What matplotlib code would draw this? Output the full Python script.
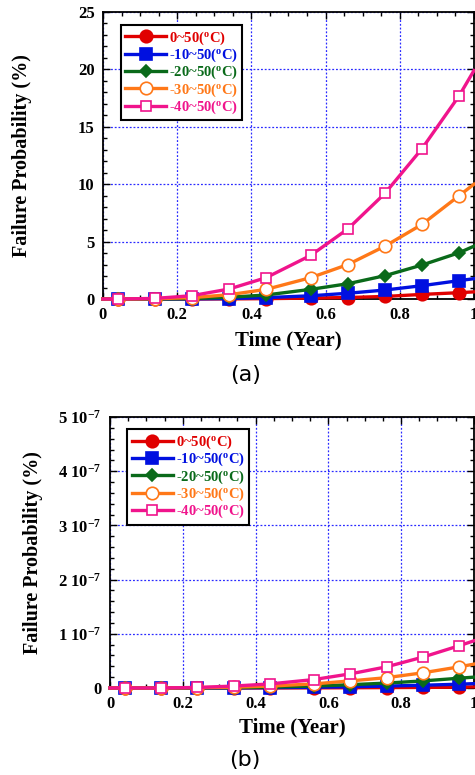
import numpy as np
import matplotlib
matplotlib.use("Agg")
import matplotlib.pyplot as plt
from matplotlib.ticker import MultipleLocator, FixedLocator, FixedFormatter

# time points (year); markers sit at the inner points, lines run 0..1
time = [0.0, 0.04, 0.14, 0.24, 0.34, 0.44, 0.56, 0.66, 0.76, 0.86, 0.96, 1.0]

labels = ["0~50($^\\mathbf{o}$C)", "-10~50($^\\mathbf{o}$C)", "-20~50($^\\mathbf{o}$C)",
          "-30~50($^\\mathbf{o}$C)", "-40~50($^\\mathbf{o}$C)"]
colors = ["#e00000", "#0010e0", "#0a6a1a", "#ff7818", "#f0148c"]

# (a) failure probability (%)
prob_a_0 = [0, 0, 0, 0, 0.01, 0.03, 0.08, 0.13, 0.22, 0.40, 0.55, 0.62]
prob_a_10 = [0, 0, 0, 0.01, 0.04, 0.12, 0.28, 0.50, 0.78, 1.16, 1.60, 1.77]
prob_a_20 = [0, 0, 0, 0.03, 0.15, 0.35, 0.84, 1.33, 2.03, 2.96, 4.03, 4.60]
prob_a_30 = [0, 0, 0.02, 0.12, 0.37, 0.84, 1.86, 3.00, 4.60, 6.50, 9.00, 10.0]
prob_a_40 = [0, 0, 0.05, 0.29, 0.87, 1.86, 3.80, 6.10, 9.20, 13.1, 17.7, 19.9]

# (b) failure probability (%), units of 1e-7
prob_b_0 = [0, 0, 0, 0, 0, 0, 0.002, 0.004, 0.007, 0.010, 0.015, 0.02]
prob_b_10 = [0, 0, 0, 0, 0.002, 0.006, 0.012, 0.022, 0.035, 0.05, 0.07, 0.08]
prob_b_20 = [0, 0, 0, 0.002, 0.006, 0.015, 0.035, 0.06, 0.09, 0.13, 0.18, 0.20]
prob_b_30 = [0, 0, 0, 0.005, 0.015, 0.035, 0.075, 0.13, 0.19, 0.28, 0.39, 0.44]
prob_b_40 = [0, 0, 0, 0.01, 0.035, 0.075, 0.155, 0.26, 0.39, 0.57, 0.78, 0.87]

markers = ["o", "s", "D", "o", "s"]
msizes = [9, 8, 6.5, 9, 7.5]
filled = [True, True, True, False, False]

SERIF = "Liberation Serif"
plt.rcParams["mathtext.fontset"] = "custom"
plt.rcParams["mathtext.rm"] = "Liberation Serif:bold"
plt.rcParams["mathtext.bf"] = "Liberation Serif:bold"
plt.rcParams["mathtext.it"] = "Liberation Serif:bold"


def draw_panel(ax, series, yticks, yticklabels, ymax, yminor, ylab_x, xlab_y):
    for i, vals in enumerate(series):
        ax.plot(time, vals, color=colors[i], lw=2.4, marker=markers[i],
                markersize=msizes[i], markevery=list(range(1, 11)),
                markerfacecolor=colors[i] if filled[i] else "white",
                markeredgecolor=colors[i], markeredgewidth=1.2,
                clip_on=False, zorder=3 + i, label=labels[i])
    ax.set_xlim(0, 1)
    ax.set_ylim(0, ymax)
    ax.xaxis.set_major_locator(FixedLocator([0, 0.2, 0.4, 0.6, 0.8, 1.0]))
    ax.xaxis.set_major_formatter(FixedFormatter(["0", "0.2", "0.4", "0.6", "0.8", "1"]))
    ax.xaxis.set_minor_locator(MultipleLocator(0.05))
    ax.yaxis.set_major_locator(FixedLocator(yticks))
    ax.yaxis.set_major_formatter(FixedFormatter(yticklabels))
    ax.yaxis.set_minor_locator(MultipleLocator(yminor))
    ax.tick_params(which="both", direction="in", top=True, right=True)
    ax.tick_params(which="major", length=5, width=1, pad=6)
    ax.tick_params(which="minor", length=3, width=1)
    for lab in ax.get_xticklabels() + ax.get_yticklabels():
        lab.set_fontfamily(SERIF)
        lab.set_fontweight("bold")
        lab.set_fontsize(12)
    for sp in ax.spines.values():
        sp.set_linewidth(1.3)
    ax.grid(True, which="major", color="#2a2aff", linestyle=(0, (1.5, 1.5)), lw=0.9)
    ax.set_xlabel("Time (Year)", fontfamily=SERIF, fontweight="bold", fontsize=15)
    ax.set_ylabel("Failure Probability (%)", fontfamily=SERIF, fontweight="bold", fontsize=14.5)
    ax.yaxis.set_label_coords(ylab_x, 0.5)
    ax.xaxis.set_label_coords(0.5, xlab_y)
    leg = ax.legend(loc="upper left", bbox_to_anchor=(0.048, 0.955), fancybox=False,
                    framealpha=1, edgecolor="black", handlelength=2.8,
                    handletextpad=0.2, borderpad=0.3, labelspacing=0.0,
                    borderaxespad=0.0,
                    prop={"family": SERIF, "weight": "bold", "size": 10.5})
    leg.get_frame().set_linewidth(1.5)
    for txt, c in zip(leg.get_texts(), colors):
        txt.set_color(c)


fig = plt.figure(figsize=(4.75, 7.75), dpi=100)

ax1 = fig.add_axes([0.2168, 0.6142, 0.781, 0.3703])
draw_panel(ax1, [prob_a_0, prob_a_10, prob_a_20, prob_a_30, prob_a_40],
           [0, 5, 10, 15, 20, 25], ["0", "5", "10", "15", "20", "25"], 25, 1,
           -0.19, -0.11)

ax2 = fig.add_axes([0.2316, 0.1123, 0.766, 0.3496])
draw_panel(ax2, [prob_b_0, prob_b_10, prob_b_20, prob_b_30, prob_b_40],
           [0, 1, 2, 3, 4, 5],
           ["0", "1 10$^{-7}$", "2 10$^{-7}$", "3 10$^{-7}$", "4 10$^{-7}$", "5 10$^{-7}$"],
           5, 0.2, -0.184, -0.108)

fig.text(0.516, 1 - 375 / 775, "(a)", ha="center", va="center", fontsize=16, fontfamily="DejaVu Sans")
fig.text(0.516, 1 - 760 / 775, "(b)", ha="center", va="center", fontsize=16, fontfamily="DejaVu Sans")

fig.savefig("out.png", dpi=100)
